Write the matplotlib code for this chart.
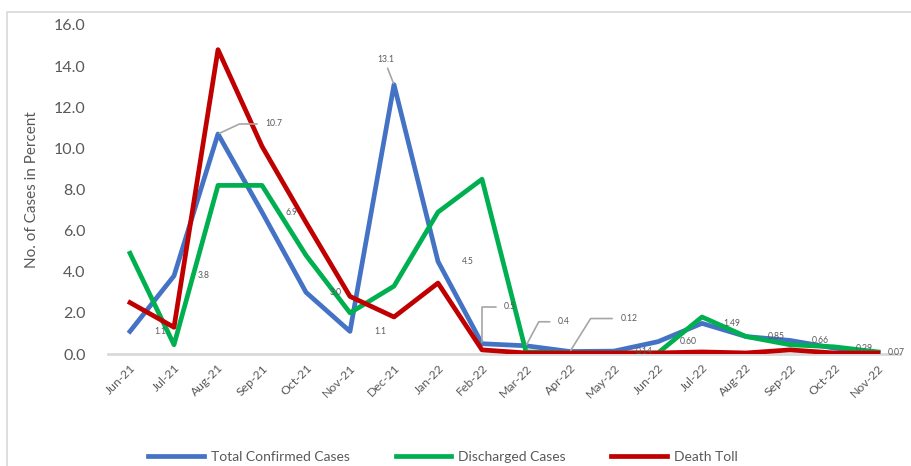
import matplotlib.pyplot as plt
from matplotlib.patches import Rectangle
from matplotlib.lines import Line2D

# monthly share of cases (percent)
months = ['Jun-21', 'Jul-21', 'Aug-21', 'Sep-21', 'Oct-21', 'Nov-21', 'Dec-21', 'Jan-22', 'Feb-22',
          'Mar-22', 'Apr-22', 'May-22', 'Jun-22', 'Jul-22', 'Aug-22', 'Sep-22', 'Oct-22', 'Nov-22']
confirmed = [1.1, 3.8, 10.7, 6.9, 3.0, 1.1, 13.1, 4.5, 0.5, 0.4, 0.12, 0.14, 0.60, 1.49, 0.85, 0.66, 0.29, 0.07]
discharged = [4.9, 0.45, 8.2, 8.2, 4.8, 2.0, 3.3, 6.9, 8.5, 0.1, 0.05, 0.05, 0.05, 1.8, 0.85, 0.45, 0.35, 0.1]
deaths = [2.5, 1.3, 14.8, 10.1, 6.4, 2.8, 1.8, 3.45, 0.2, 0.05, 0.05, 0.05, 0.05, 0.1, 0.05, 0.2, 0.05, 0.05]
confirmed_labels = ['1.1', '3.8', '10.7', '6.9', '3.0', '1.1', '13.1', '4.5', '0.5',
                    '0.4', '0.12', '0.14', '0.60', '1.49', '0.85', '0.66', '0.29', '0.07']

plt.rcParams['font.family'] = ['Lato', 'DejaVu Sans']

fig = plt.figure(figsize=(9.11, 4.66), dpi=100)
fig.patch.set_facecolor('white')
ax = fig.add_axes([108 / 911, 1 - 354 / 466, 792 / 911, (354 - 25) / 466])

# light grey chart frame (only left/top edges fall inside the image)
fig.patches.append(Rectangle((7 / 911, -0.1), 1.2, 1.1 - 12 / 466, transform=fig.transFigure,
                             fill=False, edgecolor='#d9d9d9', linewidth=1.2))

x = list(range(len(months)))
ax.plot(x, confirmed, color='#4472C4', linewidth=3.4, label='Total Confirmed Cases', zorder=3)
ax.plot(x, discharged, color='#00B050', linewidth=3.4, label='Discharged Cases', zorder=4)
ax.plot(x, deaths, color='#C00000', linewidth=3.4, label='Death Toll', zorder=5)

# data labels for confirmed cases (offsets in pixels, leader lines where Excel moved them)
offsets = {2: (56, 10), 6: (-8, 25), 8: (28, 37), 9: (38, 24), 10: (59, 33), 17: (18, 0)}
leader_angle = {2: 25, 8: 90, 9: 62, 10: 58}
for i, txt in enumerate(confirmed_labels):
    dx, dy = offsets.get(i, (30, 0))
    kw = {}
    if i == 6:
        kw['arrowprops'] = dict(arrowstyle='-', color='#a6a6a6', lw=1.2, shrinkA=1, shrinkB=1,
                                relpos=(0.5, 0))
    elif i in leader_angle:
        kw['arrowprops'] = dict(arrowstyle='-', color='#a6a6a6', lw=1.2, shrinkA=4, shrinkB=1,
                                relpos=(0, 0.5),
                                connectionstyle=f'angle,angleA=0,angleB={leader_angle[i]},rad=0')
    ax.annotate(txt, (i, confirmed[i]), xytext=(dx, dy), textcoords='offset pixels',
                ha='center', va='center', fontsize=6.2, color='#595959',
                annotation_clip=False, zorder=6, **kw)

ax.set_xlim(-0.5, len(months) - 0.5)
ax.set_ylim(0, 16)
ax.set_yticks([0, 2, 4, 6, 8, 10, 12, 14, 16])
ax.set_yticklabels([f'{v:.1f}' for v in ax.get_yticks()], fontsize=11.5, color='#595959')
ax.set_xticks(x)
ax.set_xticklabels(months, rotation=45, ha='right', rotation_mode='anchor',
                   fontsize=8.8, color='#595959')
ax.tick_params(axis='y', length=0, pad=16)
ax.tick_params(axis='x', length=0, pad=6)

for side in ['top', 'right', 'left']:
    ax.spines[side].set_visible(False)
ax.spines['bottom'].set_color('#d9d9d9')
ax.spines['bottom'].set_linewidth(2)
ax.spines['bottom'].set_zorder(2)

fig.text(32 / 911, 1 - 190 / 466, 'No. of Cases in Percent', rotation=90, ha='center', va='center',
         fontsize=11, color='#595959')

handles = [Line2D([0], [0], color=c, linewidth=3.4) for c in ['#4472C4', '#00B050', '#C00000']]
fig.legend(handles, ['Total Confirmed Cases', 'Discharged Cases', 'Death Toll'],
           loc='center', bbox_to_anchor=(443 / 911, 9 / 466), ncol=3, frameon=False,
           fontsize=10, labelcolor='#595959', handlelength=4.0, columnspacing=3.3,
           handletextpad=0.5)

fig.savefig('out.png', dpi=100)
